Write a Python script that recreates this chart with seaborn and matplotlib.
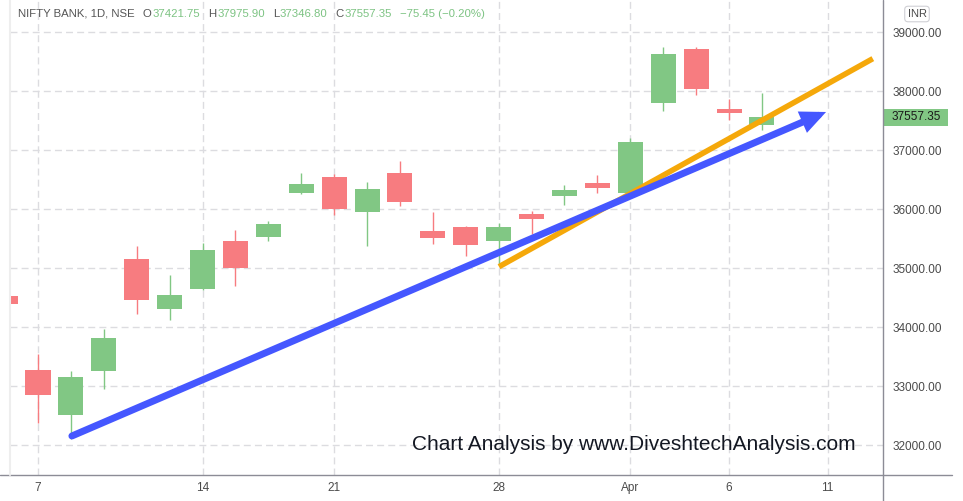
import matplotlib
matplotlib.use("Agg")
import matplotlib.pyplot as plt
import matplotlib.transforms as mtransforms
from matplotlib.lines import Line2D
from matplotlib.patches import Rectangle
import numpy as np
import seaborn as sns

# Daily candles, NIFTY BANK (Mar 4 .. Apr 7)
dates = ["Mar 4", "Mar 7", "Mar 8", "Mar 9", "Mar 10", "Mar 11", "Mar 14", "Mar 15",
         "Mar 16", "Mar 17", "Mar 21", "Mar 22", "Mar 23", "Mar 24", "Mar 25", "Mar 28",
         "Mar 29", "Mar 30", "Mar 31", "Apr 1", "Apr 4", "Apr 5", "Apr 6", "Apr 7"]
opens = [34530, 33276, 32519, 33264, 35158, 34310, 34649, 35463, 35531, 36276, 36547, 35954,
         36615, 35632, 35700, 35463, 35920, 36225, 36446, 36276, 37800, 38717, 37700, 37421.75]
highs = [34530, 33547, 33259, 33971, 35378, 34886, 35434, 35649, 35802, 36615, 36598, 36463,
         36819, 35954, 35717, 35768, 35971, 36412, 36581, 37208, 38751, 38751, 37869, 37975.90]
lows = [34400, 32378, 32107, 32959, 34231, 34124, 34632, 34700, 35463, 36259, 35903, 35378,
        36056, 35412, 35208, 35056, 35581, 36073, 36276, 36200, 37666, 37936, 37514, 37346.80]
closes = [34400, 32852, 33158, 33819, 34463, 34547, 35310, 35005, 35751, 36429, 36005, 36344,
          36124, 35514, 35395, 35700, 35835, 36327, 36361, 37141, 38631, 38039, 37632.80, 37557.35]

# x-axis labels (bar index -> label), index 25 is the future "11"
tick_pos = [1, 6, 10, 15, 19, 22, 25]
tick_labels = ["7", "14", "21", "28", "Apr", "6", "11"]
price_ticks = [32000, 33000, 34000, 35000, 36000, 37000, 38000, 39000]

# drawn trend lines (bar index, price)
blue_x = [2.03, 24.95]
blue_y = [32158, 37649]
orange_x = [15.01, 26.37]
orange_y = [35027, 38553]

UP = "#81C784"
DOWN = "#F77C80"
TXT = "#4A4A4A"
AXC = "#8C8C96"

sns.set_theme(style="white")
plt.rcParams["font.family"] = ["Liberation Sans", "DejaVu Sans"]
plt.rcParams["lines.scale_dashes"] = False

W, H = 963, 501
fig = plt.figure(figsize=(W / 100, H / 100), dpi=100)
fig.patch.set_facecolor("white")
ax = fig.add_axes([10 / W, 26 / H, 873 / W, 475 / H])

x = np.arange(len(dates))
o = np.array(opens)
c = np.array(closes)
colors = [UP if cc >= oo else DOWN for oo, cc in zip(o, c)]

ax.vlines(x, lows, highs, colors=colors, linewidth=1.0, zorder=2)
ax.bar(x, np.abs(c - o), bottom=np.minimum(o, c), width=0.76, color=colors,
       linewidth=0, zorder=3)

sns.lineplot(x=orange_x, y=orange_y, ax=ax, color="#F5A80A", linewidth=4.0,
             solid_capstyle="butt", zorder=4)
ax.annotate("", xy=(blue_x[1], blue_y[1]), xytext=(blue_x[0], blue_y[0]),
            arrowprops=dict(arrowstyle="-|>,head_length=1.0,head_width=0.45",
                            color="#4557FF", lw=5, shrinkA=0, shrinkB=0,
                            mutation_scale=10, joinstyle="miter"),
            zorder=5)

ax.set_xlim(0.149, 26.68)
ax.set_ylim(31497, 39547)

ax.set_xticks(tick_pos)
ax.set_xticklabels(tick_labels)
ax.set_yticks(price_ticks)
ax.set_yticklabels([f"{p:.2f}" for p in price_ticks])
ax.yaxis.tick_right()
ax.tick_params(axis="y", length=0, pad=7, labelsize=8.5, labelcolor=TXT)
ax.tick_params(axis="x", length=0, pad=5, labelsize=8.5, labelcolor=TXT)

ax.grid(True, color="#DCDCE0", linewidth=1.0, linestyle=(0, (5, 3)))
ax.set_axisbelow(True)
for s in ax.spines.values():
    s.set_visible(False)

# pane borders
fig.add_artist(Line2D([883 / W, 883 / W], [0, 1], transform=fig.transFigure,
                      color=AXC, lw=1.0))
fig.add_artist(Line2D([0, 952 / W], [26 / H, 26 / H], transform=fig.transFigure,
                      color=AXC, lw=1.0))
fig.add_artist(Line2D([10 / W, 10 / W], [26 / H, 1], transform=fig.transFigure,
                      color="#EEEEEE", lw=1.5))

# last price marker on the price scale
trans = mtransforms.blended_transform_factory(ax.transAxes, ax.transData)
box_h = 17 / (475 / (39547 - 31497))
ax.add_patch(Rectangle((1.0, closes[-1] - box_h / 2), 65 / 873, box_h, transform=trans,
                       facecolor=UP, edgecolor="none", clip_on=False, zorder=6))
ax.text(1.0 + 9 / 873, closes[-1], f"{closes[-1]:.2f}", transform=trans, va="center",
        ha="left", fontsize=8.5, color="#1A1A1A", clip_on=False, zorder=7)

# currency badge
fig.text(917 / W, 1 - 14 / H, "INR", ha="center", va="center", fontsize=8, color=TXT,
         bbox=dict(boxstyle="round,pad=0.25,rounding_size=0.3", facecolor="white",
                   edgecolor="#D0D0D5", lw=0.8))

# header legend, laid out left to right
renderer = fig.canvas.get_renderer()
hy = 1 - 14 / H
GRAY, GREEN = "#555555", "#7DC383"


def put(px, s, color):
    t = fig.text(px / W, hy, s, va="center", ha="left", fontsize=8.2, color=color)
    return t.get_window_extent(renderer).x1


cur = put(18, "NIFTY BANK, 1D, NSE", GRAY)
for lab, val in [("O", opens[-1]), ("H", highs[-1]), ("L", lows[-1]), ("C", closes[-1])]:
    cur = put(cur + 8, lab, GRAY)
    cur = put(cur + 1, f"{val:.2f}", GREEN)
chg = closes[-1] - closes[-2]
put(cur + 8, f"\u2212{abs(chg):.2f} (\u2212{abs(chg) / closes[-2] * 100:.2f}%)", GREEN)

# watermark
fig.text(412 / W, 1 - 450 / H, "Chart Analysis by www.DiveshtechAnalysis.com",
         fontsize=15, color="#131722", va="baseline", ha="left")

fig.savefig("out.png", dpi=100, facecolor="white")
